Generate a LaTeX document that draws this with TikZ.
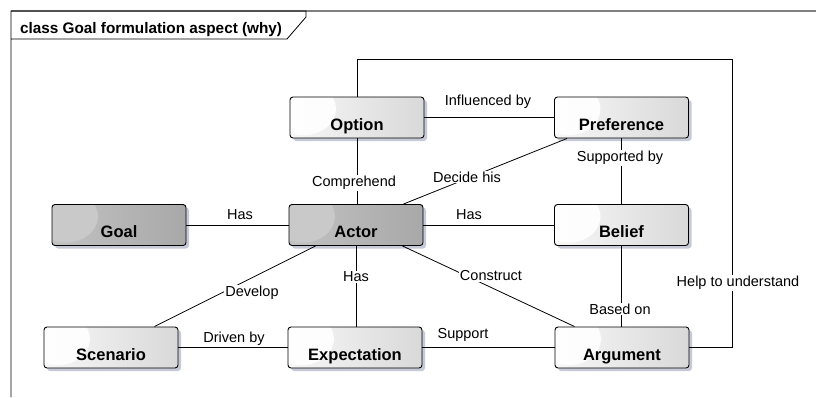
\documentclass[tikz,border=0pt]{standalone}
\usepackage{fontspec}
\setmainfont{Liberation Sans}
\usetikzlibrary{shadows,calc}
\definecolor{shadowc}{RGB}{198,202,216}
\definecolor{framegray}{RGB}{128,128,128}
\begin{document}
\begin{tikzpicture}[x=1pt,y=-1pt,
  cls/.style={draw=black, line width=0.9pt, rounded corners=3pt,
    minimum width=134pt, minimum height=41pt, inner sep=0pt,
    font=\fontsize{16.5}{18}\selectfont\bfseries, text height=27pt, text depth=2pt,
    drop shadow={shadow xshift=3pt, shadow yshift=-3pt, fill=shadowc, opacity=1}},
  lightcls/.style={cls, left color=black!3, right color=black!15,
    path picture={\fill[white,opacity=0.9] ($(path picture bounding box.north west)+(14,12)$) ellipse (32pt and 26pt);}},
  darkcls/.style={cls, left color=black!24, right color=black!34,
    path picture={\fill[black!21] ($(path picture bounding box.north west)+(14,12)$) ellipse (32pt and 26pt);}},
  lbl/.style={fill=white, inner sep=1pt, font=\fontsize{14.5}{16}\selectfont},
  con/.style={line width=0.8pt}]

\useasboundingbox (0,0) rectangle (816,397);

% diagram frame with name tab
\draw[framegray, line width=1.2pt] (11,11) -- (816,11);
\draw[line width=0.8pt] (11,397) -- (11,11) -- (306,11) -- (306,17) -- (287,39) -- (11,39);
\node[anchor=base west, font=\fontsize{15.3}{17}\selectfont\bfseries, inner sep=0pt] (title) at (20,33) {class Goal formulation aspect (why)};

% classes
\node[lightcls] (option) at (357,117.5) {Option};
\node[lightcls] (pref) at (621.5,117.5) {Preference};
\node[darkcls] (goal) at (119,225) {Goal};
\node[darkcls] (actor) at (356,225) {Actor};
\node[lightcls] (belief) at (621.5,225) {Belief};
\node[lightcls] (scen) at (111,347.5) {Scenario};
\node[lightcls] (expect) at (355,347.5) {Expectation};
\node[lightcls] (arg) at (622,347.5) {Argument};

% associations
\coordinate (loopcorner) at (732,59);
\draw[con] (option) -- (pref);
\draw[con] (option.south) -- (option.south |- actor.north);
\draw[con] ($(actor.north east)+(-20,0)$) -- ($(pref.south west)+(13,0)$);
\draw[con] (pref.south) -- (belief.north);
\draw[con] (goal) -- (actor);
\draw[con] (actor) -- (belief);
\draw[con] (belief.south) -- (belief.south |- arg.north);
\draw[con] ($(actor.south west)+(27,0)$) -- ($(scen.north east)+(-24,0)$);
\draw[con] (actor.south) -- (actor.south |- expect.north);
\draw[con] ($(actor.south east)+(-21,0)$) -- ($(arg.north west)+(20,0)$);
\draw[con] (scen) -- (expect);
\draw[con] (expect) -- (arg);
\draw[con] (option.north) |- (loopcorner) |- (arg.east);

% association names
\node[lbl] (l1) at (488,102) {Influenced by};
\node[lbl] (l2) at (354,183) {Comprehend};
\node[lbl] (l3) at (467,177) {Decide his};
\node[lbl] (l4) at (620,158) {Supported by};
\node[lbl] (l5) at (240,215) {Has};
\node[lbl] (l6) at (469,215) {Has};
\node[lbl] (l7) at (356,277) {Has};
\node[lbl] (l8) at (252,293) {Develop};
\node[lbl] (l9) at (491,276) {Construct};
\node[lbl] (l10) at (620,309) {Based on};
\node[lbl] (l11) at (738,283) {Help to understand};
\node[lbl] (l12) at (234,339) {Driven by};
\node[lbl] (l13) at (463,335) {Support};
\end{tikzpicture}
\end{document}
